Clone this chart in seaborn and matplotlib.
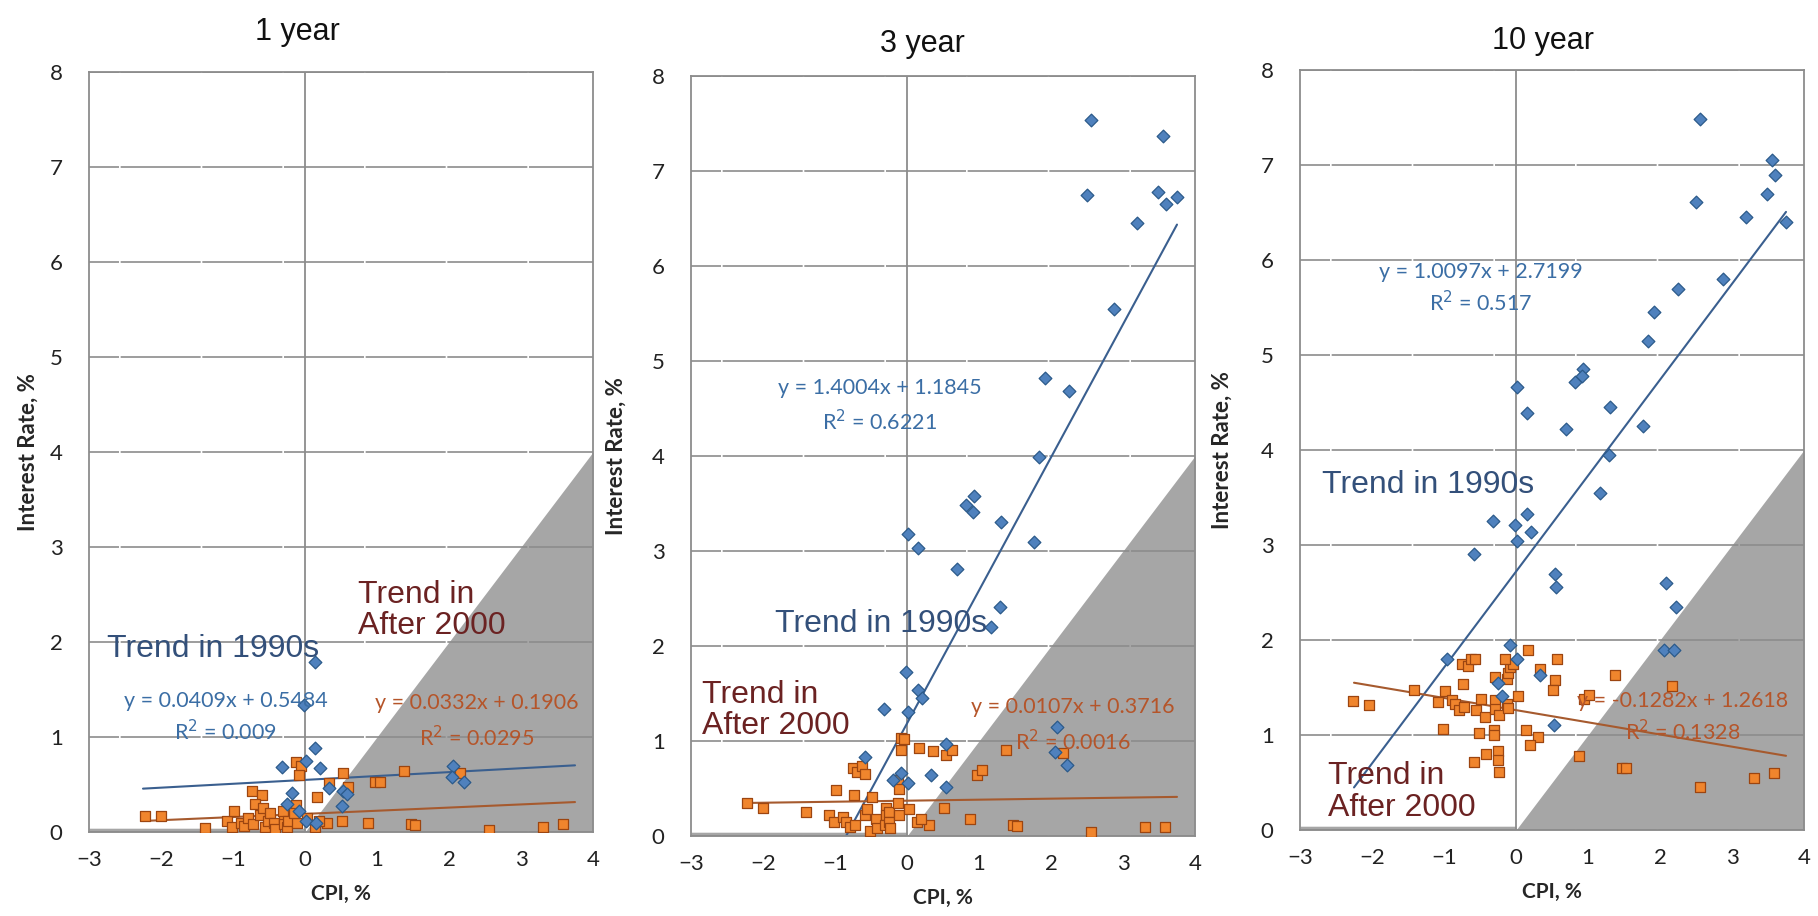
import matplotlib
matplotlib.use("Agg")
import matplotlib.pyplot as plt
import seaborn as sns

sns.set_theme(style="white")
plt.rcParams['font.family'] = ['Lato', 'DejaVu Sans']

# ---- data ----
titles = ["1 year", "3 year", "10 year"]
x_ticks = [-3, -2, -1, 0, 1, 2, 3, 4]
y_ticks = [0, 1, 2, 3, 4, 5, 6, 7, 8]

# 1990s (blue diamonds)
cpi_90s_1y = [0.14, -0.02, 0.14, 0.01, -0.32, 0.21, -0.18, 0.34, 0.53, 0.58, 0.52,
              2.06, 2.04, 2.21, -0.25, 0.02, -0.09, 0.15]
rate_90s_1y = [1.79, 1.34, 0.88, 0.75, 0.68, 0.67, 0.41, 0.46, 0.43, 0.40, 0.27,
               0.69, 0.58, 0.53, 0.30, 0.12, 0.22, 0.10]

cpi_90s_3y = [2.55, 3.55, 2.50, 3.49, 3.60, 3.75, 3.20, 2.87, 1.92, 2.25, 1.84,
              0.935, 0.815, 0.92, 1.31, 0.01, 0.15, 1.76, 0.70, 1.29, 1.16,
              -0.01, 0.15, 0.21, -0.32, 0.02, 0.54, -0.58, -0.09, -0.19, 0.02,
              0.34, 0.54, 2.09, 2.06, 2.22]
rate_90s_3y = [7.54, 7.37, 6.75, 6.78, 6.65, 6.73, 6.45, 5.55, 4.82, 4.68, 3.99,
               3.58, 3.48, 3.41, 3.31, 3.18, 3.03, 3.09, 2.81, 2.41, 2.20,
               1.73, 1.54, 1.45, 1.34, 1.31, 0.97, 0.83, 0.66, 0.59, 0.56,
               0.64, 0.52, 1.15, 0.88, 0.75]

cpi_90s_10y = [2.55, 3.55, 3.60, 3.49, 3.75, 2.50, 3.20, 2.87, 1.92, 1.84, 2.25,
               0.935, 0.815, 0.92, 1.31, 0.01, 0.15, 1.76, 0.70, 1.29, 1.16,
               -0.01, 0.15, 0.21, -0.32, 0.02, 0.54, -0.58, -0.09, 0.02, 0.34,
               0.56, -0.19, -0.96, -0.25, 0.53, 2.09, 2.06, 2.22, 2.20]
rate_90s_10y = [7.48, 7.05, 6.89, 6.69, 6.40, 6.61, 6.45, 5.80, 5.45, 5.15, 5.70,
                4.85, 4.72, 4.78, 4.45, 4.66, 4.39, 4.25, 4.22, 3.95, 3.55,
                3.21, 3.33, 3.14, 3.25, 3.04, 2.69, 2.91, 1.95, 1.80, 1.63,
                2.56, 1.41, 1.80, 1.55, 1.11, 2.60, 1.90, 2.35, 1.90]

# after 2000 (orange squares)
cpi_00s_1y = [-2.22, -2.0, -1.39, -1.08, -0.99, -1.01, -0.89, -0.85, -0.79, -0.72,
              -0.74, -0.60, -0.69, -0.62, -0.55, -0.52, -0.59, -0.48, -0.43, -0.41,
              -0.29, -0.29, -0.30, -0.25, -0.23, -0.12, -0.05, -0.09, -0.13, -0.11,
              -0.15, 0.03, 0.16, 0.14, 0.30, 0.20, 0.34, 0.53, 0.60, 0.51,
              0.88, 0.97, 1.04, 1.37, 1.47, 1.53, 2.15, 2.55, 3.30, 3.58]
rate_00s_1y = [0.17, 0.17, 0.04, 0.12, 0.22, 0.05, 0.10, 0.06, 0.15, 0.08,
               0.43, 0.39, 0.30, 0.18, 0.05, 0.12, 0.25, 0.20, 0.10, 0.03,
               0.15, 0.08, 0.22, 0.05, 0.12, 0.74, 0.69, 0.60, 0.28, 0.10,
               0.20, 0.15, 0.37, 0.05, 0.10, 0.12, 0.52, 0.62, 0.47, 0.12,
               0.10, 0.53, 0.53, 0.64, 0.08, 0.07, 0.62, 0.02, 0.05, 0.08]

cpi_00s_3y = [-2.22, -2.0, -1.40, -1.08, -0.99, -1.01, -0.89, -0.85, -0.79, -0.72,
              -0.73, -0.75, -0.69, -0.62, -0.58, -0.52, -0.59, -0.55, -0.48, -0.43,
              -0.41, -0.29, -0.29, -0.30, -0.25, -0.13, -0.11, -0.09, -0.04, -0.09,
              -0.25, -0.23, -0.13, -0.11, 0.03, 0.17, 0.14, 0.30, 0.20, 0.36,
              0.54, 0.63, 0.51, 0.88, 0.97, 1.04, 1.38, 1.47, 1.53, 2.17,
              2.55, 3.30, 3.58]
rate_00s_3y = [0.35, 0.30, 0.25, 0.22, 0.48, 0.15, 0.20, 0.15, 0.10, 0.12,
               0.43, 0.72, 0.67, 0.74, 0.65, 0.05, 0.22, 0.28, 0.41, 0.18,
               0.08, 0.30, 0.22, 0.12, 0.25, 0.59, 0.50, 1.03, 1.02, 0.91,
               0.15, 0.08, 0.35, 0.22, 0.28, 0.93, 0.15, 0.12, 0.18, 0.89,
               0.85, 0.91, 0.30, 0.18, 0.64, 0.70, 0.91, 0.12, 0.11, 0.87,
               0.04, 0.09, 0.10]

cpi_00s_10y = [-2.26, -2.04, -1.41, -1.08, -0.99, -1.01, -0.89, -0.85, -0.79, -0.72,
               -0.73, -0.75, -0.66, -0.62, -0.57, -0.52, -0.59, -0.55, -0.48, -0.43,
               -0.41, -0.29, -0.29, -0.30, -0.30, -0.24, -0.29, -0.13, -0.11, -0.09,
               -0.04, -0.15, -0.25, -0.25, -0.23, -0.13, -0.11, 0.03, 0.17, 0.14,
               0.30, 0.20, 0.33, 0.57, 0.54, 0.51, 0.88, 0.95, 1.01, 1.38,
               1.47, 1.53, 2.17, 2.55, 3.30, 3.58]
rate_00s_10y = [1.36, 1.32, 1.47, 1.35, 1.46, 1.06, 1.37, 1.33, 1.26, 1.29,
                1.54, 1.75, 1.73, 1.80, 1.80, 1.02, 0.72, 1.26, 1.38, 1.19,
                0.80, 1.37, 1.27, 1.05, 1.00, 1.21, 1.61, 1.59, 1.65, 1.72,
                1.75, 1.80, 0.83, 0.74, 0.61, 1.33, 1.28, 1.41, 1.90, 1.05,
                0.98, 0.89, 1.70, 1.80, 1.58, 1.47, 0.78, 1.38, 1.42, 1.63,
                0.65, 0.65, 1.52, 0.45, 0.55, 0.60]

# trend lines (as printed on the chart)
slope_90s = [0.0409, 1.4004, 1.0097]
icpt_90s = [0.5484, 1.1845, 2.7199]
r2_90s = ["0.009", "0.6221", "0.517"]
slope_00s = [0.0332, 0.0107, -0.1282]
icpt_00s = [0.1906, 0.3716, 1.2618]
r2_00s = ["0.0295", "0.0016", "0.1328"]
trend_x = [-2.25, 3.75]

# shaded region below y = x
shade_x = [-3, 0, 0, 4]
shade_top = [0.04, 0.04, 0, 4]

cpi_90s = [cpi_90s_1y, cpi_90s_3y, cpi_90s_10y]
rate_90s = [rate_90s_1y, rate_90s_3y, rate_90s_10y]
cpi_00s = [cpi_00s_1y, cpi_00s_3y, cpi_00s_10y]
rate_00s = [rate_00s_1y, rate_00s_3y, rate_00s_10y]

# ---- layout (pixels of the 1818x916 picture) ----
W, H = 1818, 916
ax_left = [89, 691, 1300]
ax_bottom = [832, 836, 830]
ax_w, ax_h = 504, 760
title_pos = [(297, 40), (922, 52), (1543, 49)]
ylab_x = [-0.10, -0.127, -0.133]

# text positions in data units
txt_90s = [(-2.75, 1.84), (-1.83, 2.15), (-2.69, 3.55)]
txt_00s = [(0.74, 2.53), (-2.85, 1.52), (-2.61, 0.60)]
eq_90s = [(-1.1, 1.38, 1.06), (-0.375, 4.72, 4.36), (-0.49, 5.87, 5.55)]
eq_00s = [(2.39, 1.36, 0.99), (2.3, 1.36, 0.99), (2.32, 1.36, 1.04)]

grid_c = '#8c8c8c'
shade_c = '#a6a6a6'
blue_fill, blue_edge, blue_line = '#4f81bd', '#2b5a8a', '#3a5f8f'
orng_fill, orng_edge, orng_line = '#f0852d', '#9c4510', '#a65a2e'
blue_txt, red_txt = '#33507a', '#6b2222'
eqb_txt, eqo_txt = '#3b6ea5', '#b5552a'

fig = plt.figure(figsize=(W / 100, H / 100), dpi=100)

for i in range(3):
    ax = fig.add_axes([ax_left[i] / W, (H - ax_bottom[i]) / H, ax_w / W, ax_h / H])
    ax.set_xlim(-3, 4)
    ax.set_ylim(0, 8)
    ax.set_xticks(x_ticks)
    ax.set_yticks(y_ticks)
    ax.tick_params(length=0, labelsize=16, colors='#222222')
    ax.tick_params(axis='x', pad=13)
    ax.tick_params(axis='y', pad=19)
    ax.grid(axis='y', color=grid_c, lw=1.2, linestyle=(30, (48, 1)))
    ax.grid(axis='x', visible=False)
    for sp in ax.spines.values():
        sp.set_color(grid_c)
        sp.set_linewidth(1.3)
    ax.axvline(0, color=grid_c, lw=1.3, zorder=1)

    ax.fill_between(shade_x, 0, shade_top, color=shade_c, lw=0, zorder=0.2)

    xs = trend_x
    sns.lineplot(x=xs, y=[slope_90s[i] * v + icpt_90s[i] for v in xs],
                 color=blue_line, lw=1.5, ax=ax, zorder=2.5)
    sns.lineplot(x=xs, y=[slope_00s[i] * v + icpt_00s[i] for v in xs],
                 color=orng_line, lw=1.5, ax=ax, zorder=2.5)

    sns.scatterplot(x=cpi_00s[i], y=rate_00s[i], marker='s', s=48,
                    color=orng_fill, edgecolor=orng_edge, linewidth=0.9,
                    ax=ax, zorder=3)
    sns.scatterplot(x=cpi_90s[i], y=rate_90s[i], marker='D', s=42,
                    color=blue_fill, edgecolor=blue_edge, linewidth=0.9,
                    ax=ax, zorder=4)

    ax.set_xlabel("CPI, %", fontsize=15, fontweight='bold', labelpad=10)
    ax.set_ylabel("Interest Rate, %", fontsize=16, fontweight='bold')
    ax.yaxis.set_label_coords(ylab_x[i], 0.5)

    # annotations
    ax.text(txt_90s[i][0], txt_90s[i][1], "Trend in 1990s", color=blue_txt,
            fontsize=23, family='Liberation Sans', va='baseline', zorder=5)
    ax.text(txt_00s[i][0], txt_00s[i][1] - 0.45, "Trend in\nAfter 2000",
            color=red_txt, fontsize=23, family='Liberation Sans',
            va='baseline', linespacing=1.08, zorder=5)
    ex, ey, ry = eq_90s[i]
    ax.text(ex, ey, f"y = {slope_90s[i]:g}x + {icpt_90s[i]:g}", color=eqb_txt,
            fontsize=15.5, ha='center', va='center', zorder=5)
    ax.text(ex, ry, f"R$^2$ = {r2_90s[i]}", color=eqb_txt,
            fontsize=15.5, ha='center', va='center', zorder=5)
    ex, ey, ry = eq_00s[i]
    ax.text(ex, ey, f"y = {slope_00s[i]:g}x + {icpt_00s[i]:g}", color=eqo_txt,
            fontsize=15.5, ha='center', va='center', zorder=5)
    ax.text(ex, ry, f"R$^2$ = {r2_00s[i]}", color=eqo_txt,
            fontsize=15.5, ha='center', va='center', zorder=5)

    tx, ty = title_pos[i]
    fig.text(tx / W, 1 - ty / H, titles[i], fontsize=22, family='Liberation Sans',
             ha='center', va='baseline', color='#111111')

fig.savefig("out.png", dpi=100)
